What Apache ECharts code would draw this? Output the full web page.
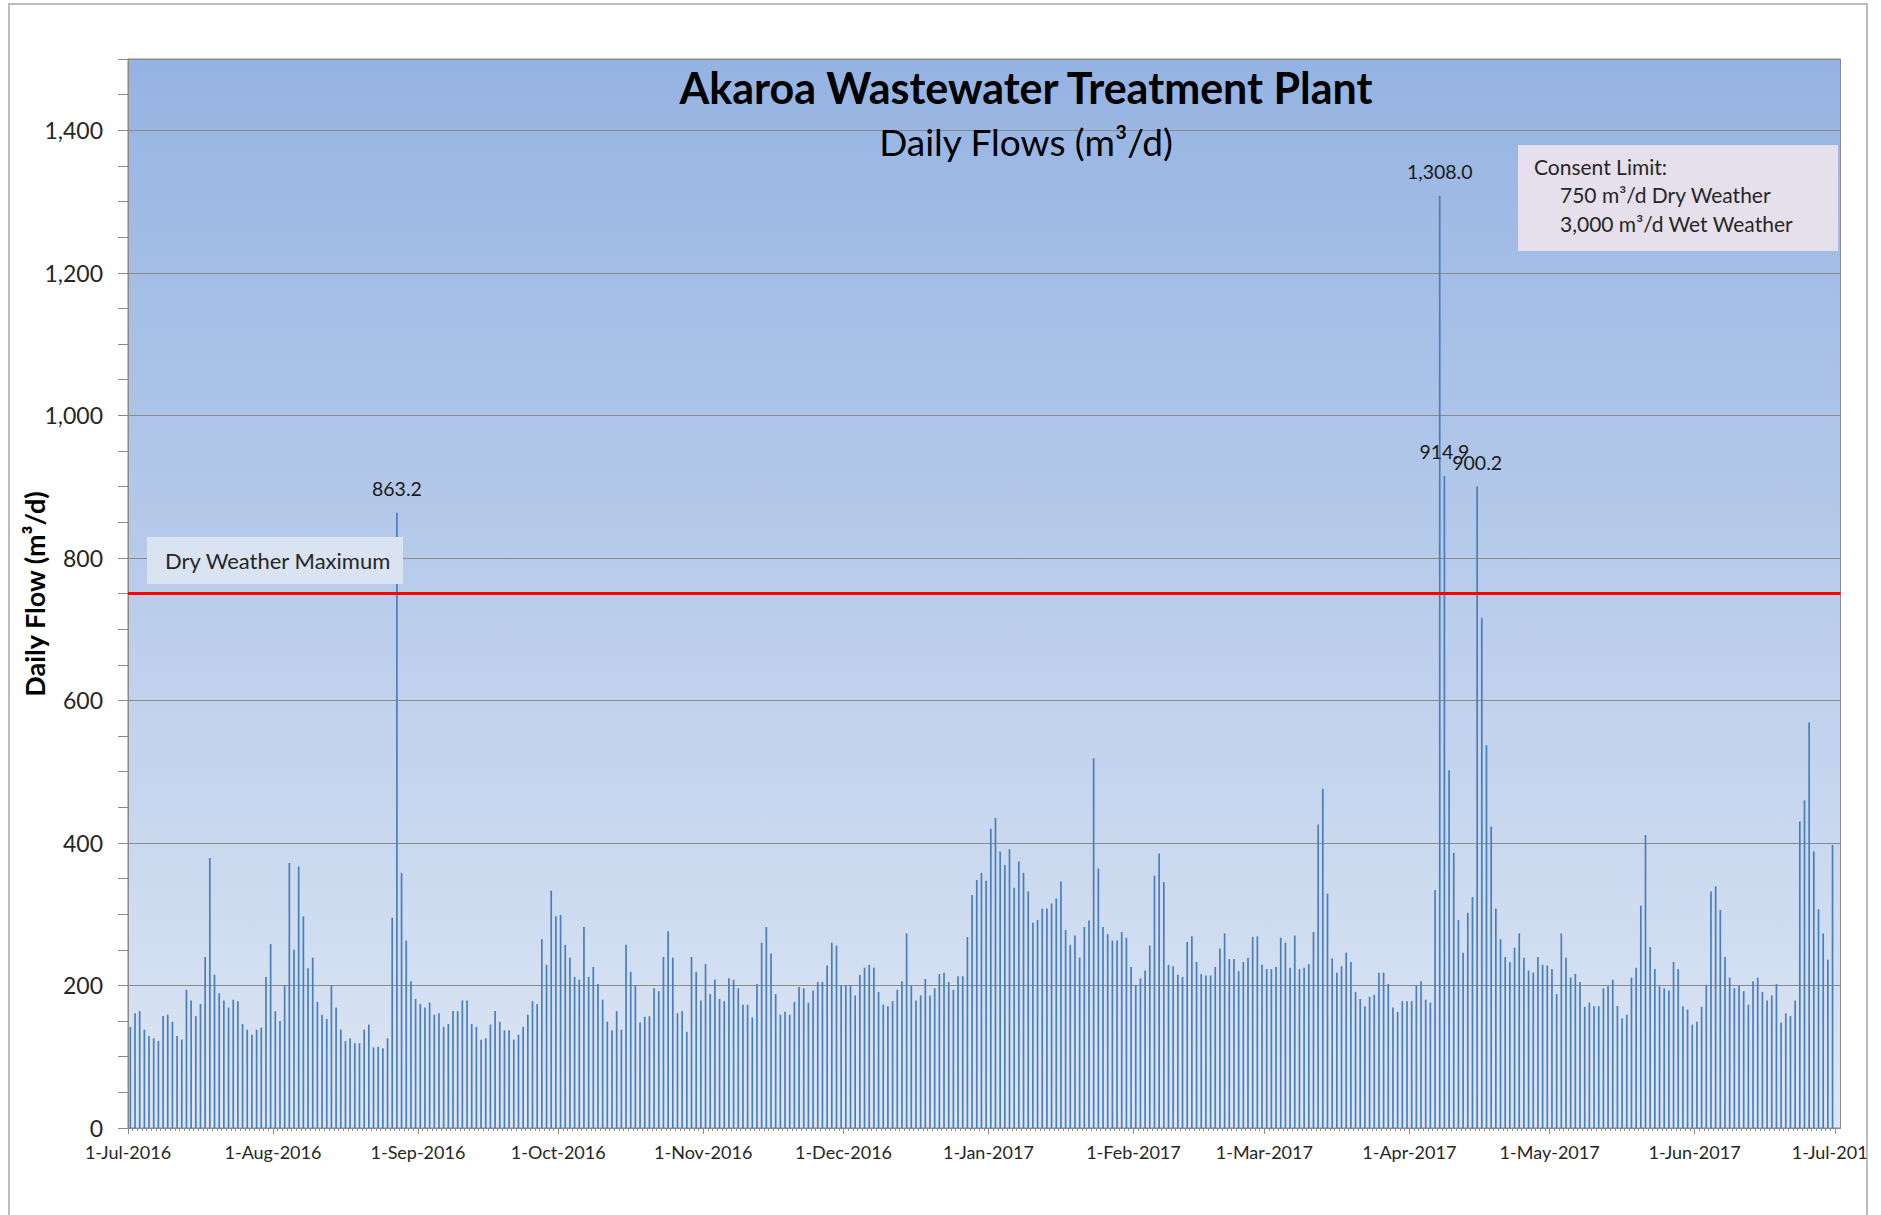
<!DOCTYPE html>
<html><head><meta charset="utf-8">
<script src="https://cdn.jsdelivr.net/npm/echarts@6/dist/echarts.min.js"></script>
<style>html,body{margin:0;padding:0;background:#fff}#c{width:1881px;height:1215px}</style>
</head><body><div id="c"></div>
<script>
// ---------- DATA ----------
const startDate = '2016-07-01';           // first day of the series
const flows = [
 142,161,164,138,129,126,122,157,159,149,
 129,124,194,179,157,174,240,379,215,189,
 179,169,180,178,146,138,131,138,141,212,
 258,164,150,200,372,250,367,297,224,239,
 177,159,153,200,169,138,122,126,119,119,
 138,145,113,114,112,126,295,863.2,358,263,
 206,181,174,169,176,159,161,142,146,164,
 164,179,179,146,142,124,126,145,164,149,
 137,137,124,131,142,159,178,174,265,229,
 333,297,299,257,239,212,208,282,212,226,
 202,180,149,137,164,138,257,219,200,148,
 156,157,196,192,240,276,239,161,164,135,
 240,219,179,230,188,208,181,178,210,208,
 196,173,173,155,202,260,282,245,188,159,
 163,159,177,198,196,176,193,205,205,228,
 260,256,200,200,200,186,215,225,229,225,
 191,173,171,178,194,206,273,200,179,186,
 209,186,196,216,218,205,194,213,213,268,
 327,348,358,347,420,435,388,369,391,337,
 374,358,332,288,292,308,308,315,322,346,
 278,257,270,239,282,291,519,364,282,272,
 263,263,275,267,226,200,210,221,256,354,
 385,345,229,227,215,212,261,269,233,216,
 214,214,226,252,273,237,237,220,233,239,
 268,269,229,223,223,226,267,260,225,270,
 223,225,230,275,426,476,329,238,218,227,
 246,233,191,181,171,184,187,218,218,202,
 169,163,178,178,178,200,206,180,176,334,
 1308.0,914.9,502,386,292,246,302,324,900.2,716,
 537,423,308,265,240,233,253,273,239,221,
 218,240,229,228,223,188,273,239,211,216,
 205,170,176,171,171,196,199,208,171,154,
 159,211,225,312,411,254,223,199,196,193,
 233,223,171,166,145,149,170,201,332,339,
 306,240,211,196,200,192,173,206,211,191,
 179,186,202,148,161,157,179,430,460,569,
 388,307,273,236,397
];
const monthTicks = ['2016-07-01','2016-08-01','2016-09-01','2016-10-01','2016-11-01','2016-12-01',
  '2017-01-01','2017-02-01','2017-03-01','2017-04-01','2017-05-01','2017-06-01','2017-07-01'];
const monthNames = ['Jan','Feb','Mar','Apr','May','Jun','Jul','Aug','Sep','Oct','Nov','Dec'];
const yTicks = [0,200,400,600,800,1000,1200,1400];
const dryWeatherLimit = 750;
const titleText = 'Akaroa Wastewater Treatment Plant';
const subtitleText = 'Daily Flows (m\u00b3/d)';
const yAxisTitle = 'Daily Flow (m\u00b3/d)';
const consentLines = ['Consent Limit:', '750 m\u00b3/d Dry Weather', '3,000 m\u00b3/d Wet Weather'];
const dryLabel = 'Dry Weather Maximum';

// ---------- HELPERS ----------
const DAY = 86400000;
function parseDay(s){
  const p = s.split('-').map(Number);
  return Date.UTC(p[0], p[1]-1, p[2]);
}
const t0 = parseDay(startDate);
function dayIndex(s){ return Math.round((parseDay(s) - t0) / DAY); }
function dayLabel(idx){
  const d = new Date(t0 + Math.round(idx) * DAY);
  return d.getUTCDate() + '-' + monthNames[d.getUTCMonth()] + '-' + d.getUTCFullYear();
}
function fmtNum(v, dec){
  return v.toFixed(dec).replace(/\B(?=(\d{3})+(?!\d))/g, ',');
}
const monthPos = monthTicks.map(dayIndex);
const xMin = 0;
const xMax = monthPos[monthPos.length-1] + 1.2;
const dayPos = [];
for (let i = 0; i <= flows.length; i++) dayPos.push(i);

const FONT = 'Lato, "Open Sans", sans-serif';
const gridColor = '#8a8a8a';

const chart = echarts.init(document.getElementById('c'), null, {renderer:'svg', width:1881, height:1215});
chart.setOption({
  animation: false,
  backgroundColor: '#ffffff',
  grid: {
    left: 128, top: 59, width: 1719, height: 1069,
    show: true, borderColor: gridColor, borderWidth: 1,
    backgroundColor: new echarts.graphic.LinearGradient(0,0,0,1,[
      {offset:0, color:'#95b3e2'}, {offset:1, color:'#dde6f4'}])
  },
  xAxis: [{
    type: 'value', min: xMin, max: xMax, position: 'bottom',
    axisLine: {show: true, onZero: false, lineStyle: {color: gridColor, width: 1}},
    axisTick: {show: true, customValues: monthPos, length: 6, lineStyle: {color: gridColor}},
    axisLabel: {show: true, customValues: monthPos, margin: 15, fontSize: 18, color: '#262626', fontFamily: FONT,
      formatter: v => dayLabel(v)},
    splitLine: {show: false}
  }, {
    type: 'value', min: xMin, max: xMax, position: 'bottom',
    axisLine: {show: false, onZero: false},
    axisTick: {show: true, customValues: dayPos, length: 3, lineStyle: {color: gridColor}},
    axisLabel: {show: false, customValues: dayPos},
    splitLine: {show: false}
  }],
  yAxis: [{
    type: 'value', min: 0, max: 1500, interval: 200,
    axisLine: {show: true, lineStyle: {color: gridColor}},
    axisTick: {show: false},
    axisLabel: {margin: 25, fontSize: 23, color: '#262626', fontFamily: FONT,
      formatter: v => (yTicks.indexOf(v) >= 0 ? fmtNum(v, 0) : '')},
    splitLine: {show: true, lineStyle: {color: gridColor, width: 1}}
  }, {
    type: 'value', min: 0, max: 1500, interval: 50, position: 'left',
    axisLine: {show: false},
    axisTick: {show: true, length: 10, lineStyle: {color: gridColor}},
    axisLabel: {show: false},
    splitLine: {show: false}
  }],
  series: [{
    type: 'bar',
    xAxisIndex: 0, yAxisIndex: 0,
    barWidth: 1.7,
    itemStyle: {color: '#4a7ebb'},
    data: flows.map((v, i) => ({
      value: [i + 0.5, v],
      label: {show: v > dryWeatherLimit}
    })),
    label: {
      position: 'top', distance: 14, fontSize: 19.5, color: '#1a1a1a', fontFamily: FONT,
      formatter: p => fmtNum(p.value[1], 1)
    },
    markLine: {
      silent: true, symbol: ['none','none'],
      label: {show: false},
      lineStyle: {color: '#ff0000', width: 3, type: 'solid'},
      data: [{yAxis: dryWeatherLimit}]
    }
  }],
  graphic: [
    {type:'text', x:1026, y:87, z:50, style:{text:titleText, font:'bold 43px ' + FONT, fill:'#000',
      textAlign:'center', align:'center', textVerticalAlign:'middle', verticalAlign:'middle'}},
    {type:'text', x:1026, y:141, z:50, style:{text:subtitleText, font:'37px ' + FONT, fill:'#000',
      textAlign:'center', align:'center', textVerticalAlign:'middle', verticalAlign:'middle'}},
    {type:'text', x:34, y:594, rotation:Math.PI/2, z:50, style:{text:yAxisTitle, font:'bold 27px ' + FONT, fill:'#000',
      textAlign:'center', align:'center', textVerticalAlign:'middle', verticalAlign:'middle'}},
    {type:'rect', z:40, shape:{x:1518, y:145, width:320, height:106}, style:{fill:'#e5e0ec'}},
    {type:'text', x:1534, y:166, z:50, style:{text:consentLines[0], font:'21px ' + FONT, fill:'#262626',
      textAlign:'left', align:'left', textVerticalAlign:'middle', verticalAlign:'middle'}},
    {type:'text', x:1560, y:194, z:50, style:{text:consentLines[1], font:'21px ' + FONT, fill:'#262626',
      textAlign:'left', align:'left', textVerticalAlign:'middle', verticalAlign:'middle'}},
    {type:'text', x:1560, y:223, z:50, style:{text:consentLines[2], font:'21px ' + FONT, fill:'#262626',
      textAlign:'left', align:'left', textVerticalAlign:'middle', verticalAlign:'middle'}},
    {type:'rect', z:40, shape:{x:147, y:537, width:256, height:47}, style:{fill:'#dae3f1'}},
    {type:'text', x:165, y:560, z:50, style:{text:dryLabel, font:'22px ' + FONT, fill:'#262626',
      textAlign:'left', align:'left', textVerticalAlign:'middle', verticalAlign:'middle'}},
    {type:'rect', z:100, shape:{x:1868, y:0, width:20, height:1215}, style:{fill:'#ffffff'}},
    {type:'rect', z:101, shape:{x:9, y:4, width:1858, height:1300}, style:{fill:'none', stroke:'#a6a6a6', lineWidth:1.5}}
  ]
});
</script></body></html>
